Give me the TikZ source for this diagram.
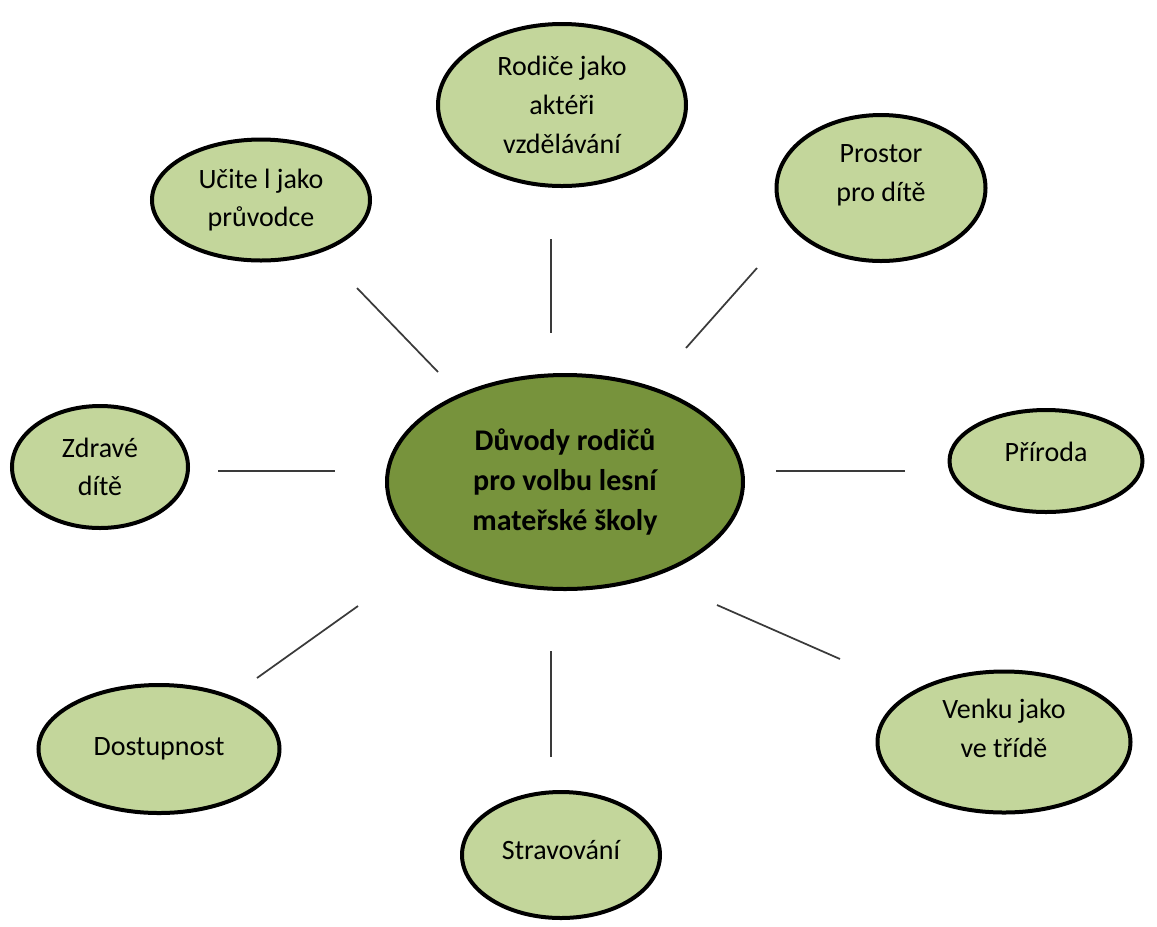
\documentclass[tikz,border=0pt]{standalone}
\usepackage{fontspec}
\setmainfont{Carlito}
\usetikzlibrary{shapes.geometric}
\definecolor{leafgreen}{HTML}{C3D69B}
\definecolor{mossgreen}{HTML}{77933C}
\definecolor{stemgray}{HTML}{3A3A3A}
\begin{document}
\begin{tikzpicture}[x=0.75pt, y=-0.75pt,
    oval/.style 2 args={minimum width=#1*0.75pt, minimum height=#2*0.75pt},
    bubble/.style={ellipse, draw=black, line width=3pt, fill=leafgreen, inner sep=0pt,
        align=center, font=\fontsize{21}{29}\selectfont},
    core/.style={bubble, fill=mossgreen, font=\bfseries\fontsize{22.5}{30}\selectfont},
    link/.style={draw=stemgray, line width=1.3pt}]
    \useasboundingbox (0,0) rectangle (1157,926);

    % Central node
    \node[core, oval={356}{214}] (duvody) at (565,482) {Důvody rodičů\\pro volbu lesní\\mateřské školy};

    % Reasons around it
    \node[bubble, oval={248}{162}] (rodice) at (562,105) {Rodiče jako\\aktéři\\vzdělávání};
    \node[bubble, oval={218}{121}] (ucitel) at (261,200) {Učite l jako\\průvodce};
    \node[bubble, oval={209}{146}] (prostor) at (881,188) {Prostor\\pro dítě\\[-7pt]};
    \node[bubble, oval={176}{122}] (zdrave) at (100,467) {Zdravé\\dítě};
    \node[bubble, oval={193}{102}] (priroda) at (1046,461) {Příroda\\[-15.5pt]};
    \node[bubble, oval={241}{128}] (dostupnost) at (159,749) {Dostupnost};
    \node[bubble, oval={198}{126}] (stravovani) at (561,855) {Stravování\\[-21.5pt]};
    \node[bubble, oval={253}{141}] (venku) at (1004,742) {Venku jako\\ve třídě\\[-8pt]};

    % Line ends
    \coordinate (ucitel-a) at (357,288);
    \coordinate (ucitel-b) at (438,372);
    \coordinate (rodice-a) at (551,239);
    \coordinate (rodice-b) at (551,333);
    \coordinate (prostor-a) at (757,268);
    \coordinate (prostor-b) at (686,348);
    \coordinate (zdrave-a) at (218,471);
    \coordinate (zdrave-b) at (335,471);
    \coordinate (priroda-a) at (905,471);
    \coordinate (priroda-b) at (776,471);
    \coordinate (dostupnost-a) at (257,678);
    \coordinate (dostupnost-b) at (358,606);
    \coordinate (stravovani-a) at (551,757);
    \coordinate (stravovani-b) at (551,651);
    \coordinate (venku-a) at (840,659);
    \coordinate (venku-b) at (717,605);

    % Connectors
    \draw[link] (ucitel-a) -- (ucitel-b);
    \draw[link] (rodice-a) -- (rodice-b);
    \draw[link] (prostor-a) -- (prostor-b);
    \draw[link] (zdrave-a) -- (zdrave-b);
    \draw[link] (priroda-a) -- (priroda-b);
    \draw[link] (dostupnost-a) -- (dostupnost-b);
    \draw[link] (stravovani-a) -- (stravovani-b);
    \draw[link] (venku-a) -- (venku-b);
\end{tikzpicture}
\end{document}
